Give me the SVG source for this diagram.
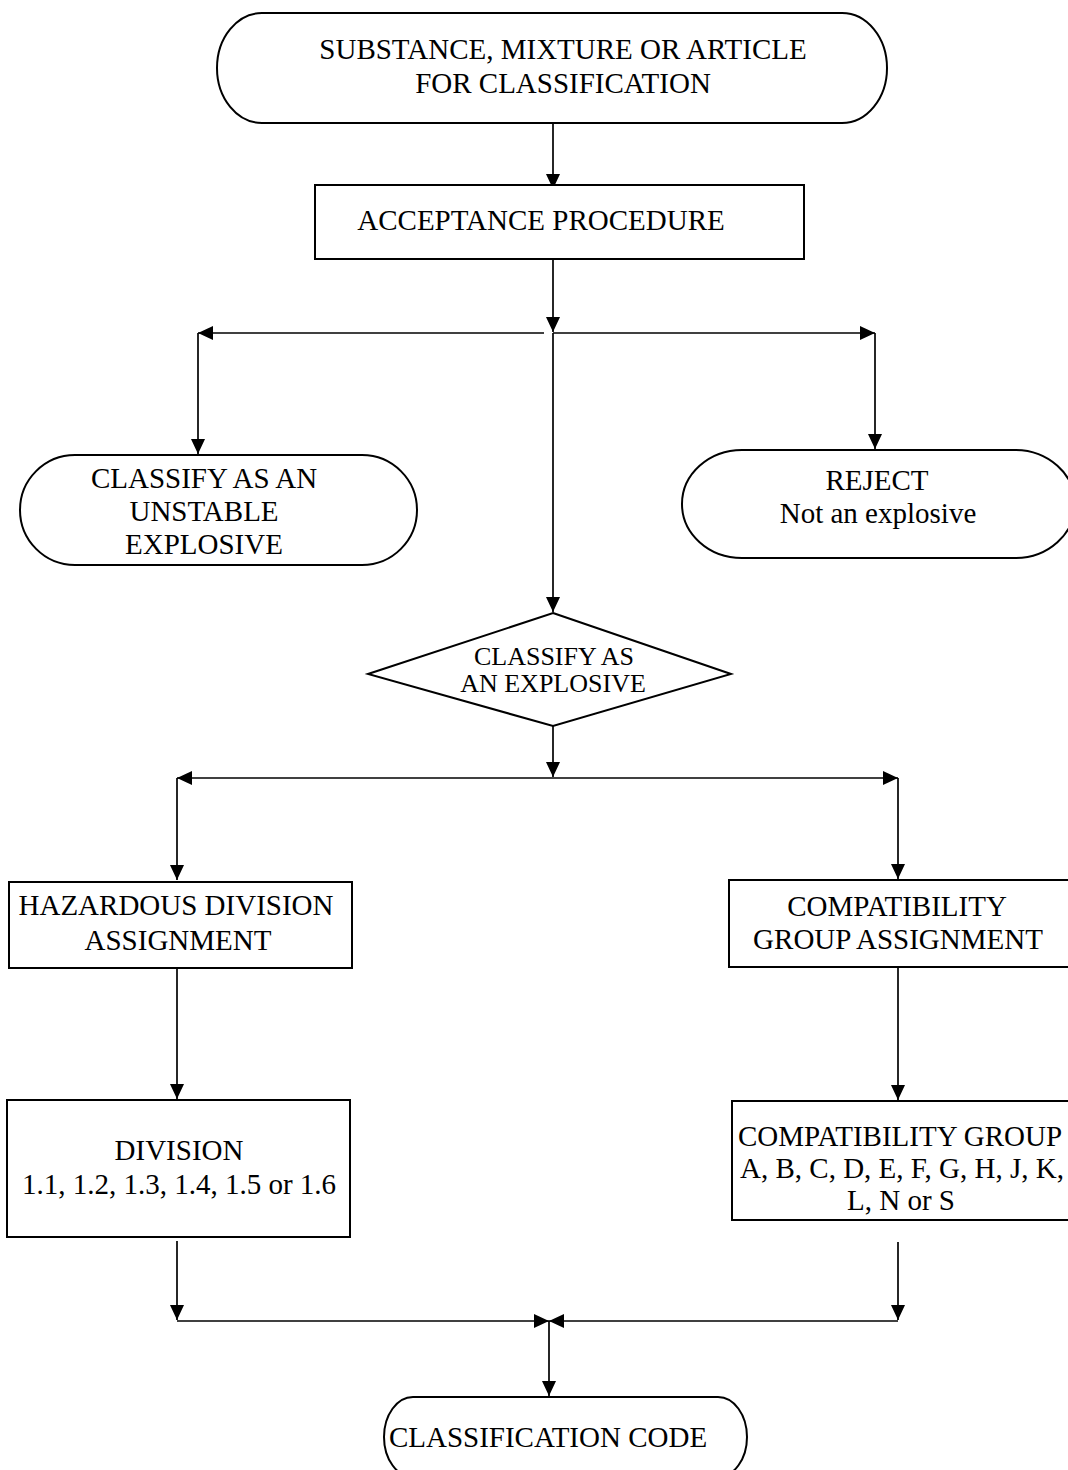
<svg xmlns="http://www.w3.org/2000/svg" width="1068" height="1470" viewBox="0 0 1068 1470">
<style>
.shape{fill:#fff;stroke:#000;stroke-width:2}
.conn{fill:none;stroke:#000;stroke-width:1.7}
text{font-family:"Liberation Serif","Times New Roman",serif;font-size:29px;fill:#000;text-anchor:middle}
.small{font-size:26px}
</style>
<defs>
<marker id="ah" markerUnits="userSpaceOnUse" markerWidth="16" markerHeight="14" refX="15" refY="7" orient="auto">
<path d="M0,0 L15,7 L0,14 Z" fill="#000"/>
</marker>
</defs>
<rect x="0" y="0" width="1068" height="1470" fill="#fff"/>
<g id="connectors" class="conn" marker-end="url(#ah)">
<path d="M553,123 V189"/>
<path d="M553,259 V332"/>
<path d="M544,333 H198"/>
<path d="M553,333 H875"/>
<path d="M198,333 V454"/>
<path d="M875,333 V449"/>
<path d="M553,333 V612"/>
<path d="M553,726 V777"/>
<path d="M553,778 H177"/>
<path d="M553,778 H898"/>
<path d="M177,778 V880"/>
<path d="M898,778 V879"/>
<path d="M177,969 V1099"/>
<path d="M898,968 V1100"/>
<path d="M177,1241 V1320"/>
<path d="M898,1242 V1320"/>
<path d="M177,1321 H549"/>
<path d="M898,1321 H549"/>
<path d="M549,1321 V1396"/>
</g>
<g id="start">
<path class="shape" d="M262,13 H842 A45,55 0 0 1 842,123 H262 A45,55 0 0 1 262,13 Z"/>
<text x="563" y="59">SUBSTANCE, MIXTURE OR ARTICLE</text>
<text x="563" y="93">FOR CLASSIFICATION</text>
</g>
<g id="acceptance">
<rect class="shape" x="315" y="185" width="489" height="74"/>
<text x="541" y="230">ACCEPTANCE PROCEDURE</text>
</g>
<g id="unstable">
<path class="shape" d="M75,455 H362 A55,55 0 0 1 362,565 H75 A55,55 0 0 1 75,455 Z"/>
<text x="204" y="488">CLASSIFY AS AN</text>
<text x="204" y="521">UNSTABLE</text>
<text x="204" y="554">EXPLOSIVE</text>
</g>
<g id="reject">
<path class="shape" d="M742,450 H1015 A60,54 0 0 1 1015,558 H742 A60,54 0 0 1 742,450 Z"/>
<text x="877" y="490">REJECT</text>
<text x="878" y="523">Not an explosive</text>
</g>
<g id="explosive">
<path class="shape" d="M553,613 L731,674 L553,726 L368,674 Z"/>
<text class="small" x="554" y="665">CLASSIFY AS</text>
<text class="small" x="553" y="692">AN EXPLOSIVE</text>
</g>
<g id="hazard">
<rect class="shape" x="9" y="882" width="343" height="86"/>
<text x="176" y="915">HAZARDOUS DIVISION</text>
<text x="178" y="950">ASSIGNMENT</text>
</g>
<g id="compat">
<rect class="shape" x="729" y="880" width="345" height="87"/>
<text x="897" y="916">COMPATIBILITY</text>
<text x="898" y="949">GROUP ASSIGNMENT</text>
</g>
<g id="division">
<rect class="shape" x="7" y="1100" width="343" height="137"/>
<text x="179" y="1160">DIVISION</text>
<text x="179" y="1194">1.1, 1.2, 1.3, 1.4, 1.5 or 1.6</text>
</g>
<g id="compatgroup">
<rect class="shape" x="732" y="1101" width="342" height="119"/>
<text x="900" y="1146">COMPATIBILITY GROUP</text>
<text x="902" y="1178">A, B, C, D, E, F, G, H, J, K,</text>
<text x="901" y="1210">L, N or S</text>
</g>
<g id="code">
<path class="shape" d="M413,1397 H718 A29,40 0 0 1 718,1477 H413 A29,40 0 0 1 413,1397 Z"/>
<text x="548" y="1447">CLASSIFICATION CODE</text>
</g>
</svg>
